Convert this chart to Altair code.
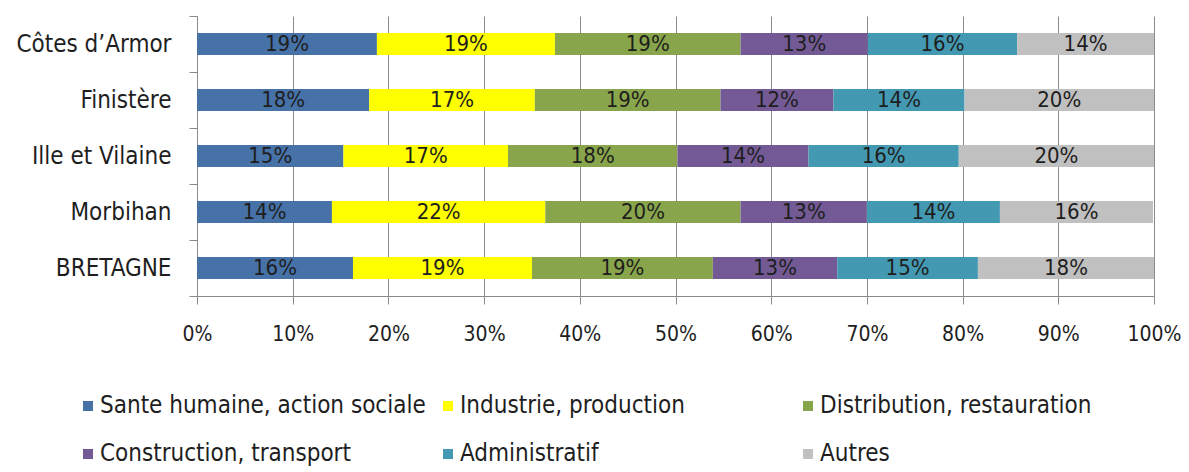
import altair as alt
import pandas as pd

categories = ["Côtes d’Armor", "Finistère", "Ille et Vilaine", "Morbihan", "BRETAGNE"]
sectors = [
    "Sante humaine, action sociale",
    "Industrie, production",
    "Distribution, restauration",
    "Construction, transport",
    "Administratif",
    "Autres",
]
colors = ["#4672A8", "#FFFF00", "#88A54B", "#735A95", "#4499B2", "#C0C0C0"]

sante = [18.8, 18.0, 15.3, 14.1, 16.3]
industrie = [18.6, 17.3, 17.2, 22.3, 18.7]
distribution = [19.4, 19.4, 17.7, 20.4, 18.9]
construction = [13.3, 11.8, 13.7, 13.2, 13.0]
administratif = [15.6, 13.7, 15.7, 13.9, 14.7]
autres = [14.3, 19.8, 20.4, 16.0, 18.4]

series = [sante, industrie, distribution, construction, administratif, autres]

rows = []
for si, (sec, vals) in enumerate(zip(sectors, series)):
    for ci, cat in enumerate(categories):
        rows.append({"cat": cat, "sector": sec, "order": si, "value": vals[ci]})
df = pd.DataFrame(rows)

FONT = "DejaVu Sans Condensed"

base = alt.Chart(df).transform_stack(
    stack="value", groupby=["cat"], sort=[alt.SortField("order")], as_=["x0", "x1"]
).transform_calculate(
    mid="(datum.x0 + datum.x1) / 2",
    lab="format(datum.value, '.0f') + '%'",
)

y_enc = alt.Y(
    "cat:N",
    sort=categories,
    scale=alt.Scale(paddingInner=0, paddingOuter=0),
    axis=alt.Axis(
        title=None,
        tickBand="extent",
        tickSize=8,
        tickColor="#8a8a8a",
        domainColor="#8a8a8a",
        labelFont=FONT,
        labelFontSize=24,
        labelColor="#1e1e1e",
        labelPadding=18,
        grid=False,
    ),
)

bars = base.mark_bar(size=22).encode(
    x=alt.X(
        "x0:Q",
        scale=alt.Scale(domain=[0, 100], nice=False),
        axis=alt.Axis(
            title=None,
            values=list(range(0, 101, 10)),
            labelExpr="datum.value + '%'",
            labelFlush=False,
            labelOverlap=False,
            tickSize=8,
            tickColor="#8a8a8a",
            domainColor="#8a8a8a",
            grid=True,
            gridColor="#8a8a8a",
            gridWidth=1,
            labelFont=FONT,
            labelFontSize=21,
            labelColor="#1e1e1e",
            labelPadding=19,
        ),
    ),
    x2="x1:Q",
    y=y_enc,
    color=alt.Color(
        "sector:N",
        scale=alt.Scale(domain=sectors, range=colors),
        sort=sectors,
        legend=alt.Legend(
            title=None,
            orient="none",
            direction="horizontal",
            legendX=-121,
            legendY=378,
            columns=3,
            gridAlign="all",
            columnPadding=10,
            rowPadding=24,
            symbolType="square",
            symbolSize=100,
            symbolStrokeWidth=0,
            labelOffset=0,
            labelFont=FONT,
            labelFontSize=24,
            labelColor="#1e1e1e",
            labelLimit=500,
            padding=0,
        ),
    ),
    order=alt.Order("order:Q"),
)

texts = base.mark_text(font=FONT, fontSize=22, color="#1e1e1e").encode(
    x=alt.X("mid:Q"),
    y=alt.Y("cat:N", sort=categories),
    text="lab:N",
)

chart = (
    alt.layer(bars, texts)
    .properties(
        width=957,
        height=280,
        autosize=alt.AutoSizeParams(type="none"),
        padding={"left": 189, "top": 8, "right": 27, "bottom": 176},
    )
    .configure_view(stroke=None)
    .configure_axis(labelFont=FONT)
)

chart.save("out.html", embed_options={"renderer": "svg", "actions": False})
